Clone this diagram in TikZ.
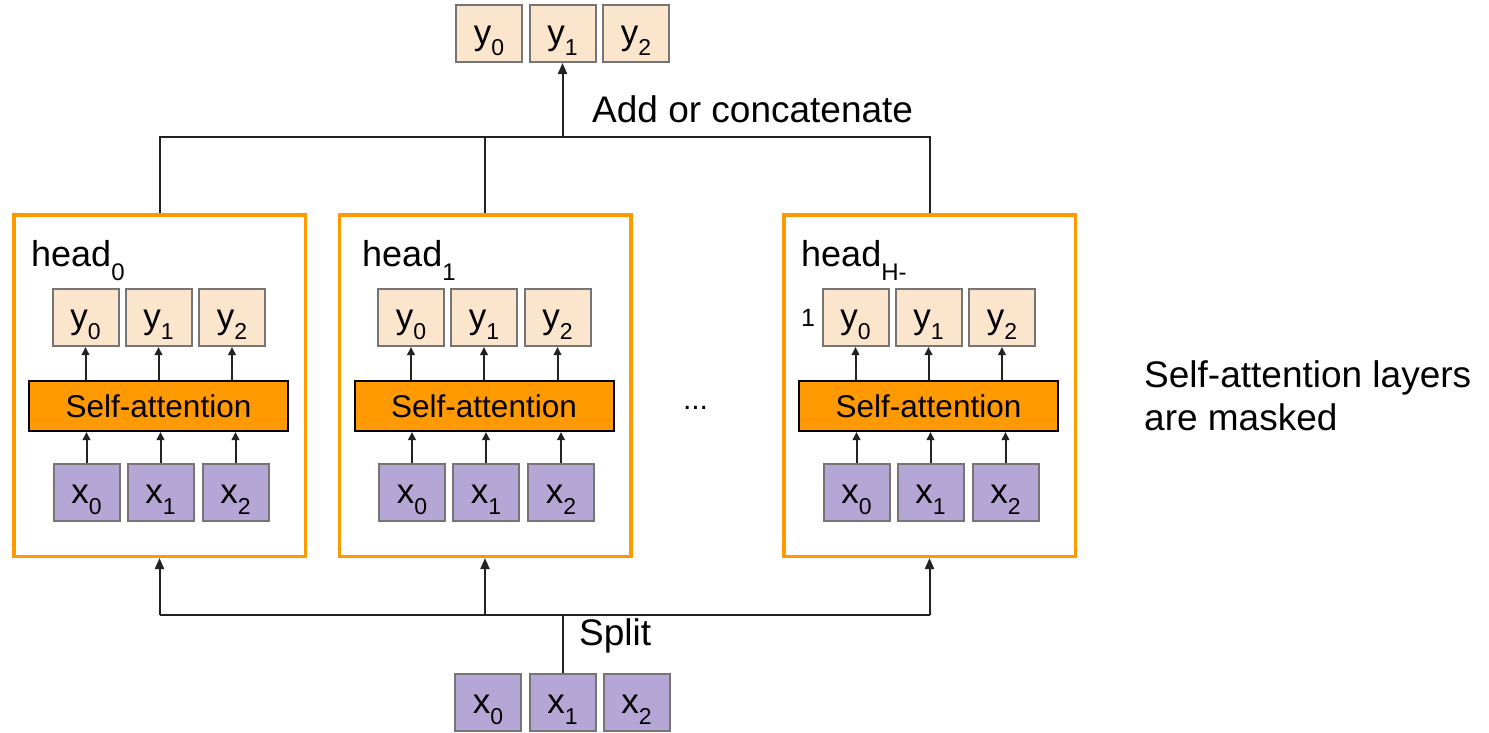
\documentclass[tikz,border=0pt]{standalone}
\usepackage{fontspec}
\setmainfont{Liberation Sans}
\usetikzlibrary{arrows.meta}
\definecolor{ybox}{HTML}{FCE5CD}
\definecolor{xbox}{HTML}{B4A7D6}
\definecolor{orng}{HTML}{FF9900}
\definecolor{edgegray}{HTML}{757575}
\definecolor{ln}{HTML}{222222}
\newcommand\tsub[1]{\raisebox{-11pt}[0pt][0pt]{\fontsize{23}{23}\selectfont #1}}
\newcommand\hsub[1]{\raisebox{-14pt}[0pt][0pt]{\fontsize{24}{24}\selectfont #1}}
\begin{document}
\begin{tikzpicture}[x=1pt,y=-1pt,
  tok/.style={draw=edgegray,line width=2pt,minimum width=66pt,minimum height=57pt,inner sep=0pt,
    font=\fontsize{35}{35}\selectfont,text height=22pt,text depth=0pt},
  ytok/.style={tok,fill=ybox},
  xtok/.style={tok,fill=xbox},
  sabox/.style={draw=black,line width=2pt,fill=orng,minimum width=259pt,minimum height=50pt,
    inner sep=0pt,font=\fontsize{31.5}{31.5}\selectfont},
  headbox/.style={draw=orng,line width=3.5pt,minimum width=291.5pt,minimum height=341.5pt,inner sep=0pt},
  conn/.style={draw=ln,line width=2pt},
  arr/.style={conn,-{Triangle[length=11pt,width=9pt]}},
  iarr/.style={draw=ln,line width=2pt,-{Triangle[length=8pt,width=7.5pt]}},
  lbl/.style={font=\fontsize{36}{36}\selectfont,inner sep=0pt,anchor=base west},
  txt/.style={font=\fontsize{37}{43}\selectfont,inner sep=0pt},
]
\useasboundingbox (0,0) rectangle (1489,732);

% heads
\foreach \cx/\i in {159.5/0,485/1,929.5/2} {
  \node[headbox] (head\i) at (\cx,385.5) {};
  \node[sabox] (sa\i) at (\cx-1,406) {Self-attention};
  \node[ytok] (hy\i0) at (\cx-74,317.5) {y\tsub{0}};
  \node[ytok] (hy\i1) at (\cx-1,317.5) {y\tsub{1}};
  \node[ytok] (hy\i2) at (\cx+72.5,317.5) {y\tsub{2}};
  \node[xtok] (hx\i0) at (\cx-73,492.5) {x\tsub{0}};
  \node[xtok] (hx\i1) at (\cx+1,492.5) {x\tsub{1}};
  \node[xtok] (hx\i2) at (\cx+76,492.5) {x\tsub{2}};
  \foreach \j in {0,1,2} {
    \draw[iarr] (hx\i\j.north) -- (hx\i\j.north |- sa\i.south);
    \draw[iarr] (hy\i\j.south |- sa\i.north) -- (hy\i\j.south);
  }
}

\node[lbl] (lab0) at (31,266) {head\hsub{0}};
\node[lbl] (lab1) at (362,266) {head\hsub{1}};
\node[lbl] (lab2) at (801,266) {head\hsub{H-}};
\node[font=\fontsize{25}{25}\selectfont,inner sep=0pt,anchor=base west] (lab2b) at (801,326) {1};

\node[font=\fontsize{30}{30}\selectfont,inner sep=0pt,anchor=base] (dots) at (695.5,409.5) {...};

% output tokens
\node[ytok] (oy0) at (489,33.5) {y\tsub{0}};
\node[ytok] (oy1) at (562.5,33.5) {y\tsub{1}};
\node[ytok] (oy2) at (636,33.5) {y\tsub{2}};

% input tokens
\node[xtok] (ix0) at (488,702.5) {x\tsub{0}};
\node[xtok] (ix1) at (562.5,702.5) {x\tsub{1}};
\node[xtok] (ix2) at (636.5,702.5) {x\tsub{2}};

% top connectors
\coordinate (tj) at (562.5,137);
\draw[conn] (head0.north) -- (head0.north |- tj) -- (head2.north |- tj) -- (head2.north);
\draw[conn] (head1.north) -- (head1.north |- tj);
\draw[arr] (tj) -- (oy1.south);

% bottom connectors
\coordinate (bj) at (562.5,615);
\draw[conn] (ix1.north) -- (bj);
\draw[conn] (head0.south |- bj) -- (head2.south |- bj);
\foreach \i in {0,1,2} \draw[arr] (head\i.south |- bj) -- (head\i.south);

% texts
\node[txt,anchor=base west] (addtxt) at (592,122) {Add or concatenate};
\node[txt,anchor=base west] (splittxt) at (579,645) {Split};
\node[txt,anchor=north west,align=left] (masktxt) at (1144,360) {Self-attention layers\\are masked};
\end{tikzpicture}
\end{document}
